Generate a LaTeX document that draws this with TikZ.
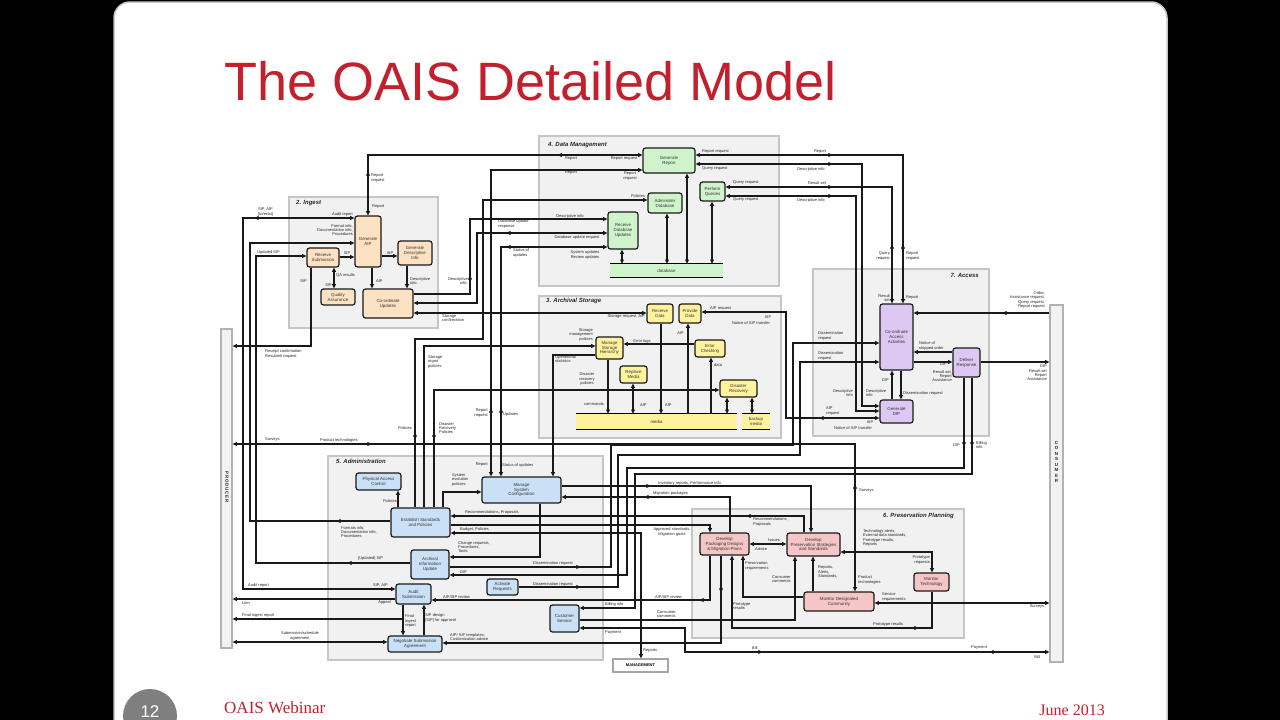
\documentclass[tikz,border=0pt]{standalone}
\usepackage{fontspec}
\setmainfont{Liberation Sans}
\newfontfamily\slideserif{Liberation Serif}
\usetikzlibrary{arrows.meta, decorations.markings}
\definecolor{titlered}{HTML}{C3202E}
\definecolor{grpfill} {HTML}{F1F1F1}
\definecolor{grpline} {HTML}{C6C6C6}
\definecolor{ingfill} {HTML}{FCE2C2}
\definecolor{dmfill}  {HTML}{CFF4CB}
\definecolor{asfill}  {HTML}{FFF29E}
\definecolor{accfill} {HTML}{DDC8F4}
\definecolor{admfill} {HTML}{C9E0F6}
\definecolor{ppfill}  {HTML}{F6C5C5}
\definecolor{footgray}{HTML}{7F7F7F}
\newcommand{\boxfont}{\fontsize{4.4}{4.9}\selectfont}
\newcommand{\lblfont}{\fontsize{4}{4.4}\selectfont}
\newcommand{\grpfont}{\fontsize{6}{6.5}\selectfont\bfseries\itshape}

\begin{document}
\begin{tikzpicture}[
    x=1pt, y=-1pt,
    >={Triangle[length=4.2pt,width=3.8pt]},
    ln/.style     = {draw=black!90, line width=1.25pt},
    midf/.style   = {postaction={decorate,decoration={markings,
                     mark=at position #1 with {\arrow{>}}}}},
    midb/.style   = {postaction={decorate,decoration={markings,
                     mark=at position #1 with {\arrowreversed{>}}}}},
    grp/.style    = {draw=grpline, fill=grpfill, line width=1.7pt,
                     anchor=north west, inner sep=0pt},
    grplbl/.style = {font=\grpfont, text=black!85, inner sep=0pt},
    fn/.style     = {draw=black!90, line width=1.2pt, rounded corners=2.5pt,
                     align=center, font=\boxfont, text=black!80, inner sep=0.5pt},
    sz/.style 2 args = {minimum width=#1pt, minimum height=#2pt},
    ingbox/.style = {fn, fill=ingfill},
    dmbox/.style  = {fn, fill=dmfill},
    asbox/.style  = {fn, fill=asfill},
    accbox/.style = {fn, fill=accfill},
    admbox/.style = {fn, fill=admfill},
    ppbox/.style  = {fn, fill=ppfill},
    bar/.style    = {inner sep=0pt, font=\boxfont, text=black!80},
    extbox/.style = {draw=gray!60, fill=gray!10, line width=1.2pt, inner sep=0pt},
    lbl/.style    = {font=\lblfont, text=black!85, inner sep=0pt}
  ]
  \useasboundingbox (0,0) rectangle (1280,720);

  %% slide
  \fill[black] (0,0) rectangle (1280,720);
  \draw[fill=white, draw=gray!45, line width=1.5pt, rounded corners=16pt]
    (114,2) rectangle (1167,760);

  \node[anchor=base west, font=\fontsize{54}{60}\selectfont, text=titlered,
        inner sep=0pt] (title) at (224,100) {The OAIS Detailed Model};

  %% functional areas
  \node[grp, sz={149}{131}] (ingestg) at (288,196) {};
  \node[grp, sz={240}{150}] (dmg)     at (538,135) {};
  \node[grp, sz={242}{142}] (asg)     at (538,295) {};
  \node[grp, sz={176}{167}] (accg)    at (812,268) {};
  \node[grp, sz={275}{204}] (admg)    at (327,455) {};
  \node[grp, sz={272}{129}] (ppg)     at (691,508) {};

  \node[grplbl, anchor=west] (ingestt) at (296,203) {2. Ingest};
  \node[grplbl, anchor=west] (dmt)     at (548,145) {4. Data Management};
  \node[grplbl, anchor=west] (ast)     at (546,301) {3. Archival Storage};
  \node[grplbl, anchor=east] (acct)    at (979,275) {7. Access};
  \node[grplbl, anchor=west] (admt)    at (336,461) {5. Administration};
  \node[grplbl, anchor=east] (ppt)     at (954,516) {6. Preservation Planning};

  %% external entities
  \node[extbox, sz={11}{319}] (producer) at (226.5,488.5) {};
  \node[extbox, sz={13}{357}] (consumer) at (1056.5,483.5) {};
  \node[extbox, sz={55}{13}, font=\fontsize{4}{4.4}\selectfont\bfseries,
        draw=gray!70, fill=white] (mgmt) at (640.5,665.5) {MANAGEMENT};
  \node[lbl, rotate=-90, font=\fontsize{4.5}{5}\selectfont\bfseries]
       (prodtxt) at (227,487) {P\,R\,O\,D\,U\,C\,E\,R};
  \node[lbl, align=center, font=\fontsize{4.5}{5.5}\selectfont\bfseries]
       (constxt) at (1056.5,462) {C\\O\\N\\S\\U\\M\\E\\R};

  %% Ingest
  \node[ingbox, sz={26}{51}] (genaip)  at (368,241.5) {Generate\\AIP};
  \node[ingbox, sz={32}{19}] (recsub)  at (323,257.5) {Receive\\Submission};
  \node[ingbox, sz={34}{24}] (gendesc) at (415,253)   {Generate\\Descriptive\\Info};
  \node[ingbox, sz={34}{16}] (qa)      at (338,297)   {Quality\\Assurance};
  \node[ingbox, sz={50}{29}] (coupd)   at (388,303.5) {Co-ordinate\\Updates};

  %% Data Management
  \node[dmbox, sz={52}{25}] (genrep) at (669,160.5) {Generate\\Report};
  \node[dmbox, sz={34}{20}] (admdb)  at (665,203)   {Administer\\Database};
  \node[dmbox, sz={25}{19}] (perfq)  at (712.5,191.5) {Perform\\Queries};
  \node[dmbox, sz={30}{37}] (recdb)  at (623,230.5) {Receive\\Database\\Updates};
  \node[bar, fill=dmfill, sz={113}{13}] (dbbar) at (666.5,270.5) {database};
  \draw[line width=0.8pt] (dbbar.north west) -- (dbbar.north east);
  \draw[line width=1.4pt] (dbbar.south west) -- (dbbar.south east);

  %% Archival Storage
  \node[asbox, sz={26}{19}] (recdata)  at (660,313.5) {Receive\\Data};
  \node[asbox, sz={22}{19}] (provdata) at (690,313.5) {Provide\\Data};
  \node[asbox, sz={27}{22}] (msh)      at (609.5,348) {Manage\\Storage\\Hierarchy};
  \node[asbox, sz={30}{17}] (errchk)   at (710,348.5) {Error\\Checking};
  \node[asbox, sz={27}{17}] (repmed)   at (633.5,374.5) {Replace\\Media};
  \node[asbox, sz={37}{17}] (disrec)   at (738.5,388.5) {Disaster\\Recovery};
  \node[bar, fill=asfill, sz={161}{15}] (media)  at (656.5,421.5) {media};
  \node[bar, fill=asfill, sz={28}{15}, align=center] (backup) at (756,421.5) {backup\\media};
  \draw[line width=0.8pt] (media.north west) -- (media.north east);
  \draw[line width=1.4pt] (media.south west) -- (media.south east);
  \draw[line width=0.8pt] (backup.north west) -- (backup.north east);
  \draw[line width=1.4pt] (backup.south west) -- (backup.south east);

  %% Access
  \node[accbox, sz={33}{66}] (caa)     at (896.5,337)   {Co-ordinate\\Access\\Activities};
  \node[accbox, sz={27}{29}] (delresp) at (966.5,362.5) {Deliver\\Response};
  \node[accbox, sz={33}{23}] (gendip)  at (896.5,411.5) {Generate\\DIP};

  %% Administration
  \node[admbox, sz={45}{17}] (pac)      at (378.5,481.5) {Physical Access\\Control};
  \node[admbox, sz={59}{29}] (esp)      at (420.5,522.5) {Establish Standards\\and Policies};
  \node[admbox, sz={38}{29}] (aiu)      at (430,564.5)   {Archival\\Information\\Update};
  \node[admbox, sz={35}{20}] (audit)    at (413.5,594)   {Audit\\Submission};
  \node[admbox, sz={54}{16}] (nsa)      at (415,644)     {Negotiate Submission\\Agreement};
  \node[admbox, sz={79}{26}] (msc)      at (521.5,490)   {Manage\\System\\Configuration};
  \node[admbox, sz={31}{16}] (actreq)   at (502.5,587)   {Activate\\Requests};
  \node[admbox, sz={29}{27}] (custserv) at (564.5,618.5) {Customer\\Service};

  %% Preservation Planning
  \node[ppbox, sz={49}{22}] (dpd)     at (724.5,544)   {Develop\\Packaging Designs\\\& Migration Plans};
  \node[ppbox, sz={53}{23}] (dps)     at (813.5,544.5) {Develop\\Preservation Strategies\\and Standards};
  \node[ppbox, sz={70}{19}] (mdc)     at (839,601.5)   {Monitor Designated\\Community};
  \node[ppbox, sz={35}{18}] (montech) at (931.5,582)   {Monitor\\Technology};

  %% Ingest flows
  \draw[ln,<->,midf=44pt,midb=250pt] (genaip.north) |- (genrep.west |- 0,155);
  \draw[ln,<->,midf=100pt] (genaip.west |- 0,218) -- (243,218) |- (audit.west |- 0,589);
  \draw[ln,->,midf=54pt] (esp.west |- 0,521) -- (250,521) |- (genaip.west |- 0,243);
  \draw[ln,->,midf=63pt] (aiu.west |- 0,563) -- (256,563) |- (recsub.west |- 0,256);
  \draw[ln,->] (recsub.east |- 0,257) -- (genaip.west |- 0,257);
  \draw[ln,->] (genaip.east |- 0,256) -- (gendesc.west |- 0,256);
  \draw[ln,->] (genaip.south -| 372,0) -- (coupd.north -| 372,0);
  \draw[ln,->] (gendesc.south -| 407,0) -- (coupd.north -| 407,0);
  \draw[ln,<->] (qa.north -| 334,0) -- (recsub.south -| 334,0);
  \draw[ln,->] (recsub.south -| 311,0) |- (producer.east |- 0,346);
  \draw[ln,->,midf=75pt] (coupd.east |- 0,294) -| (470,219) -- (recdb.west |- 0,219);
  \draw[ln,<->,midb=-101pt] (coupd.east |- 0,303) -| (477,233) -- (recdb.west |- 0,233);
  \draw[ln,<->] (coupd.east |- 0,313) -- (recdata.west |- 0,313);

  %% Data Management flows
  \draw[ln,<->,midf=101pt,midb=-68pt] (recdb.west |- 0,247) -| (msc.north -| 501,0);
  \draw[ln,<->,midf=68pt] (msc.north -| 491,0) |- (genrep.west |- 0,170);
  \draw[ln,<->] (recdb.south -| 622,0) -- (dbbar.north -| 622,0);
  \draw[ln,<->] (admdb.south -| 667,0) -- (dbbar.north -| 667,0);
  \draw[ln,<->] (genrep.south -| 687,0) -- (dbbar.north -| 687,0);
  \draw[ln,<->] (perfq.south -| 712,0) -- (dbbar.north -| 712,0);
  \draw[ln,<->,midf=137pt,midb=-59pt] (genrep.east |- 0,155) -| (caa.north -| 903,0);
  \draw[ln,<->,midf=137pt] (genrep.east |- 0,164) -| (862,406) -- (gendip.west |- 0,406);
  \draw[ln,<->,midf=107pt,midb=-59pt] (perfq.east |- 0,187) -| (caa.north -| 892,0);
  \draw[ln,<->,midf=107pt] (perfq.east |- 0,196) -| (856,411) -- (gendip.west |- 0,411);

  %% Administration policies
  \draw[ln,->,midf=75pt] (esp.north -| 415,0) |- (483,339) |- (admdb.west |- 0,200);
  \draw[ln,->] (esp.north -| 424,0) |- (msh.west |- 0,346);
  \draw[ln,->,midf=75pt] (esp.north -| 434,0) |- (disrec.west |- 0,390);
  \draw[ln,->] (esp.north -| 443,0) |- (msc.west |- 0,492);
  \draw[ln,->] (esp.north -| 398,0) -- (pac.south -| 398,0);

  %% Archival Storage flows
  \draw[ln,->] (msh.west |- 0,355) -| (msc.north -| 553,0);
  \draw[ln,->] (errchk.west |- 0,344) -- (msh.east |- 0,344);
  \draw[ln,->] (recdata.south -| 661,0) -- (media.north -| 661,0);
  \draw[ln,->] (media.north -| 688,0) -- (provdata.south -| 688,0);
  \draw[ln,->] (media.north -| 711,0) -- (errchk.south -| 711,0);
  \draw[ln,->] (msh.south -| 608,0) -- (media.north -| 608,0);
  \draw[ln,<->] (repmed.south -| 633,0) -- (media.north -| 633,0);
  \draw[ln,<->] (disrec.south -| 727,0) -- (media.north -| 727,0);
  \draw[ln,<->] (disrec.south -| 752,0) -- (backup.north -| 752,0);
  \draw[ln,<->,midf=60pt] (gendip.west |- 0,418) -| (786,312) -- (provdata.east |- 0,312);

  %% Access flows
  \draw[ln,->,midf=47pt] (consumer.west |- 0,313) -- (caa.east |- 0,313);
  \draw[ln,->] (delresp.west |- 0,352) -- (caa.east |- 0,352);
  \draw[ln,->] (caa.east |- 0,362) -- (delresp.west |- 0,362);
  \draw[ln,->] (delresp.east |- 0,362) -- (consumer.west |- 0,362);
  \draw[ln,->] (gendip.north -| 892,0) -- (caa.south -| 892,0);
  \draw[ln,->] (caa.south -| 901,0) -- (gendip.north -| 901,0);
  \draw[ln,->,midf=131pt] (aiu.east |- 0,567) -| (611,445) -| (793,343) -- (caa.west |- 0,343);
  \draw[ln,->,midf=62pt] (actreq.east |- 0,587) -| (618,455) -| (800,362) -- (caa.west |- 0,362);
  \draw[ln,->,midf=69pt] (delresp.south -| 964,0) |- (627,468) |- (aiu.east |- 0,575);
  \draw[ln,->,midf=69pt] (delresp.south -| 972,0) |- (635,474) |- (custserv.east |- 0,608);

  %% Administration flows
  \draw[ln,->] (msc.south -| 540,0) |- (aiu.east |- 0,557);
  \draw[ln,->,midf=74pt] (dps.north -| 804,0) |- (esp.east |- 0,516);
  \draw[ln,->] (esp.east |- 0,525) -| (dpd.north -| 710,0);
  \draw[ln,<->] (mgmt.north -| 641,0) |- (esp.east |- 0,533);
  \draw[ln,->,midf=89pt] (msc.east |- 0,486) -| (dps.north -| 811,0);
  \draw[ln,->,midf=121pt] (dpd.north -| 730,0) |- (msc.east |- 0,497);
  \draw[ln,->] (audit.south -| 403,0) -- (nsa.north -| 403,0);
  \draw[ln,->] (nsa.north -| 424,0) -- (audit.south -| 424,0);
  \draw[ln,->] (audit.west |- 0,599) -- (producer.east |- 0,599);
  \draw[ln,->] (audit.south -| 403,0) |- (producer.east |- 0,619);
  \draw[ln,<->] (nsa.west |- 0,642) -- (producer.east |- 0,642);
  \draw[ln,->,midf=37pt] (dpd.south -| 721,0) |- (nsa.east |- 0,643);
  \draw[ln,->,midf=55pt] (dpd.south -| 710,0) |- (audit.east |- 0,600);
  \draw[ln,->] (custserv.east |- 0,620) -| (dps.south -| 795,0);
  \draw[ln,<->,midf=207pt,midb=-60pt] (custserv.east |- 0,628) -| (685,652) -- (consumer.west |- 0,652);

  %% Preservation Planning flows
  \draw[ln,->,midf=57pt] (montech.south -| 932,0) |- (732,628) -- (dpd.south -| 732,0);
  \draw[ln,<->] (dps.east |- 0,552) -| (montech.north -| 932,0);
  \draw[ln,->] (mdc.north -| 813,0) -- (dps.south -| 813,0);
  \draw[ln,->] (mdc.west |- 0,597) -| (dpd.south -| 743,0);
  \draw[ln,<->] (dpd.east |- 0,544) -- (dps.west |- 0,544);
  \draw[ln,<->] (mdc.east |- 0,603) -- (consumer.west |- 0,603);
  \draw[ln,<->,midf=139pt,midb=-107pt] (producer.east |- 0,444) -| (mdc.north -| 855,0);

  %% flow labels
  \foreach \x/\y/\t [count=\i] in {
      371/178/{Report\\request}, 372/207/{Report}, 336/275/{QA results},
      376/281/{AIP}, 410/281/{Descriptive\\info.}, 442/318/{Storage\\confirmation},
      258/212/{SIP, AIP\\{}[to/exist]}, 257/252/{Updated SIP},
      265/354/{Receipt confirmation\\Resubmit request},
      513/253/{Status of\\updates}, 498/224/{Database update\\response},
      702/152/{Report request}, 702/169/{Query request},
      733/183/{Query request}, 733/200/{Query request},
      906/256/{Report\\request}, 906/298/{Report},
      555/359/{Operational\\statistics}, 665/405/{AIP}, 640/405/{AIP},
      714/365/{data}, 428/362/{Storage\\mgmt\\policies},
      439/428/{Disaster\\Recovery\\Policies}, 503/414/{Updates},
      710/309/{AIP request}, 826/411/{AIP\\request},
      919/346/{Notice of\\shipped order}, 903/393/{Dissemination request},
      866/393/{Descriptive\\info}, 976/445/{Billing\\info},
      818/336/{Dissemination\\request}, 818/356/{Dissemination\\request},
      452/480/{System\\evolution\\policies}, 502/465/{Status of updates},
      341/532/{Formats info,\\Documentation info,\\Procedures},
      358/558/{{[Updated] SIP}}, 458/547/{Change requests,\\Procedures,\\Tools},
      465/512/{Recommendations, Proposals}, 460/529/{Budget, Policies},
      460/572/{DIP}, 248/585/{Audit report}, 242/603/{Lien},
      242/615/{Final ingest report}, 443/597/{AIP/SIP review},
      405/621/{Final\\ingest\\report}, 425/618/{SIP design\\{}[SIP] for approval},
      450/637/{AIP/ SIP templates,\\Customization advice},
      643/651/{Reports}, 605/604/{Billing info}, 605/633/{Payment},
      657/614/{Consumer\\comments}, 655/597/{AIP/SIP review},
      658/483/{Inventory reports, Performance info}, 653/493/{Migration packages},
      752/648/{Bill}, 753/522/{Recommendations,\\Proposals},
      768/540/{Issues}, 755/549/{Advice}, 745/566/{Preservation\\requirements},
      772/579/{Consumer\\comments}, 733/606/{Prototype\\results},
      818/572/{Reports,\\Alerts,\\Standards,}, 858/580/{Product\\technologies},
      863/538/{Technology alerts,\\External data standards,\\Prototype results,\\Reports},
      882/597/{Service\\requirements}, 873/624/{Prototype results},
      859/491/{Surveys}, 265/440/{Surveys}, 320/440/{Product technologies}}
    \node[lbl, anchor=west, align=left] (lw\i) at (\x,\y) {\t};

  \foreach \x/\y/\t [count=\i] in {
      353/230/{Format info,\\Documentation info,\\Procedures},
      353/214/{Audit report}, 307/281/{SIP}, 332/285/{SIP},
      468/281/{Descriptive\\info.}, 488/413/{Report\\request}, 488/465/{Report},
      412/428/{Policies}, 593/335/{Storage\\management\\policies},
      645/317/{Storage request, AIP}, 684/333/{AIP}, 645/196/{Policies},
      952/376/{Result set,\\Report\\Assistance}, 947/364/{DIP},
      1047/373/{DIP\\Result set\\Report\\Assistance},
      1045/300/{Order,\\Assistance request,\\Query request,\\Report request},
      890/256/{Query\\request}, 890/298/{Result\\set}, 889/380/{DIP},
      960/445/{DIP}, 397/501/{Policies}, 391/602/{Appeal}, 388/585/{SIP, AIP},
      930/560/{Prototype\\requests}, 853/393/{Descriptive\\info}}
    \node[lbl, anchor=east, align=right] (le\i) at (\x,\y) {\t};

  \foreach \x/\y/\t [count=\i] in {
      571/159/{Report}, 624/159/{Report request}, 571/173/{Report},
      630/176/{Report\\request}, 570/216/{Descriptive info},
      577/237/{Database update request}, 585/255/{System updates\\Review updates},
      820/152/{Report}, 811/169/{Descriptive info}, 817/183/{Result set},
      811/200/{Descriptive info}, 587/379/{Disaster\\recovery\\policies},
      594/404/{commands}, 768/317/{AIP}, 751/323/{Notice of AIP transfer},
      870/422/{AIP}, 853/428/{Notice of AIP transfer},
      553/563/{Dissemination request}, 553/584/{Dissemination request},
      300/636/{Submission/schedule\\agreement}, 347/253/{SIP}, 390/253/{AIP},
      672/532/{Approved standards,\\Migration goals}, 979/648/{Payment},
      1037/657/{Bill}, 1037/607/{Surveys}, 642/341/{Error logs}}
    \node[lbl, anchor=center, align=center] (lc\i) at (\x,\y) {\t};

  %% footer
  \node[circle, fill=footgray, minimum size=54pt, inner sep=0pt] (pgcirc) at (150,716) {};
  \node[font=\fontsize{17}{17}\selectfont, text=white, inner sep=0pt] (pgnum) at (150,712) {12};
  \node[anchor=base west, font=\slideserif\fontsize{17}{17}\selectfont, text=titlered,
        inner sep=0pt] (foottxt) at (224,713) {OAIS Webinar};
  \node[anchor=base east, font=\slideserif\fontsize{16}{16}\selectfont, text=titlered,
        inner sep=0pt] (footdate) at (1105,715) {June 2013};

\end{tikzpicture}
\end{document}
